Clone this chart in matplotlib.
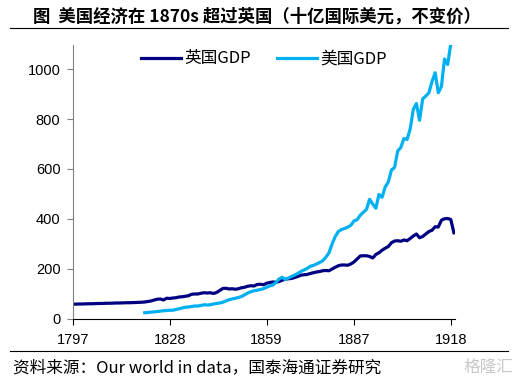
import matplotlib
matplotlib.use("Agg")
import matplotlib.pyplot as plt
from matplotlib.lines import Line2D

plt.rcParams['font.family'] = ['Liberation Sans', 'Noto Sans CJK SC', 'DejaVu Sans']

uk_years = list(range(1797, 1920))
uk_gdp = [59, 59.5, 60, 60, 60.5, 61, 61, 61.5, 62, 62, 62.5, 63, 63, 63.5, 64, 64, 64.5, 65, 65, 65.5, 66, 66.5, 67,
          68, 70, 72, 76, 79, 80, 76, 83, 82, 84, 85, 88, 89, 91, 93, 99, 100, 100, 103, 105, 104, 105, 102, 106,
          114, 122, 123, 120, 121, 119, 121, 125, 127, 131, 133, 132, 138, 139, 137, 143, 146, 148, 147, 150, 155,
          159, 161, 162, 166, 170, 175, 177, 178, 182, 185, 188, 190, 193, 194, 193, 200, 207, 213, 216, 216, 215,
          220, 228, 240, 252, 253, 253, 250, 244, 258, 265, 275, 283, 290, 305, 312, 313, 311, 316, 313, 322, 332,
          340, 325, 330, 340, 350, 355, 369, 368, 395, 401, 402, 398, 345]

us_years = list(range(1820, 1920))
us_gdp = [25, 26, 27.5, 28.5, 30, 31.5, 33, 34, 35, 35, 38, 41, 44, 47, 48, 50, 52, 52, 54, 57, 56, 57, 60, 62,
          64, 67, 72, 77, 80, 83, 86, 90, 97, 104, 109, 113, 115, 118, 121, 127, 132, 136, 146, 160, 167, 158,
          164, 170, 176, 182, 190, 196, 202, 211, 214, 220, 226, 233, 247, 265, 300, 330, 350, 358, 362, 367,
          375, 392, 397, 415, 427, 438, 479, 460, 443, 498, 487, 528, 548, 596, 606, 672, 686, 722, 718, 760,
          838, 862, 795, 880, 892, 905, 950, 985, 905, 930, 1040, 1018, 1100, 1130]

x_ticks = [1797, 1828, 1859, 1887, 1918]
y_ticks = [0, 200, 400, 600, 800, 1000]

title = "图  美国经济在 1870s 超过英国（十亿国际美元，不变价）"
source = "资料来源：Our world in data，国泰海通证券研究"
uk_label = "英国GDP"
us_label = "美国GDP"

uk_color = "#000080"
us_color = "#00B0F0"

fig = plt.figure(figsize=(5.21, 3.84), dpi=100)
ax = fig.add_axes([0.140, 0.1693, 0.733, 0.7135])

ax.plot(uk_years, uk_gdp, color=uk_color, lw=2.3, solid_joinstyle='round', label=uk_label)
ax.plot(us_years, us_gdp, color=us_color, lw=2.3, solid_joinstyle='round', label=us_label)

ax.set_xlim(1797, 1919.3)
ax.set_ylim(0, 1096)
ax.set_xticks(x_ticks)
ax.set_yticks(y_ticks)
ax.tick_params(axis='y', direction='out', length=4, color='#808080', labelsize=10.5, pad=5)
ax.tick_params(axis='x', direction='out', length=4, color='black', labelsize=10.5, pad=6)
for s in ['top', 'right']:
    ax.spines[s].set_visible(False)
ax.spines['left'].set_color('#808080')
ax.spines['bottom'].set_color('black')

leg = ax.legend(loc='upper center', bbox_to_anchor=(0.5, 1.035), ncol=2, frameon=False,
                prop={'family': ['Noto Sans CJK SC', 'Liberation Sans'], 'size': 12},
                handlelength=2.4, handletextpad=0.2, columnspacing=1.6)

fig.text(0.063, 0.958, title, fontsize=12.5, fontweight='bold',
         family=['Noto Sans CJK SC', 'DejaVu Sans'], va='center', ha='left')
fig.add_artist(Line2D([0.02, 0.975], [0.927, 0.927], color='black', lw=0.8))
fig.add_artist(Line2D([0.02, 0.975], [0.085, 0.085], color='black', lw=0.8))
fig.text(0.025, 0.042, source, fontsize=12, family=['Noto Sans CJK SC', 'DejaVu Sans'],
         va='center', ha='left')
fig.text(0.985, 0.042, "格隆汇", fontsize=12, color='#c8c8c8', family=['Noto Sans CJK SC'],
         va='center', ha='right')

fig.savefig("out.png", dpi=100)
